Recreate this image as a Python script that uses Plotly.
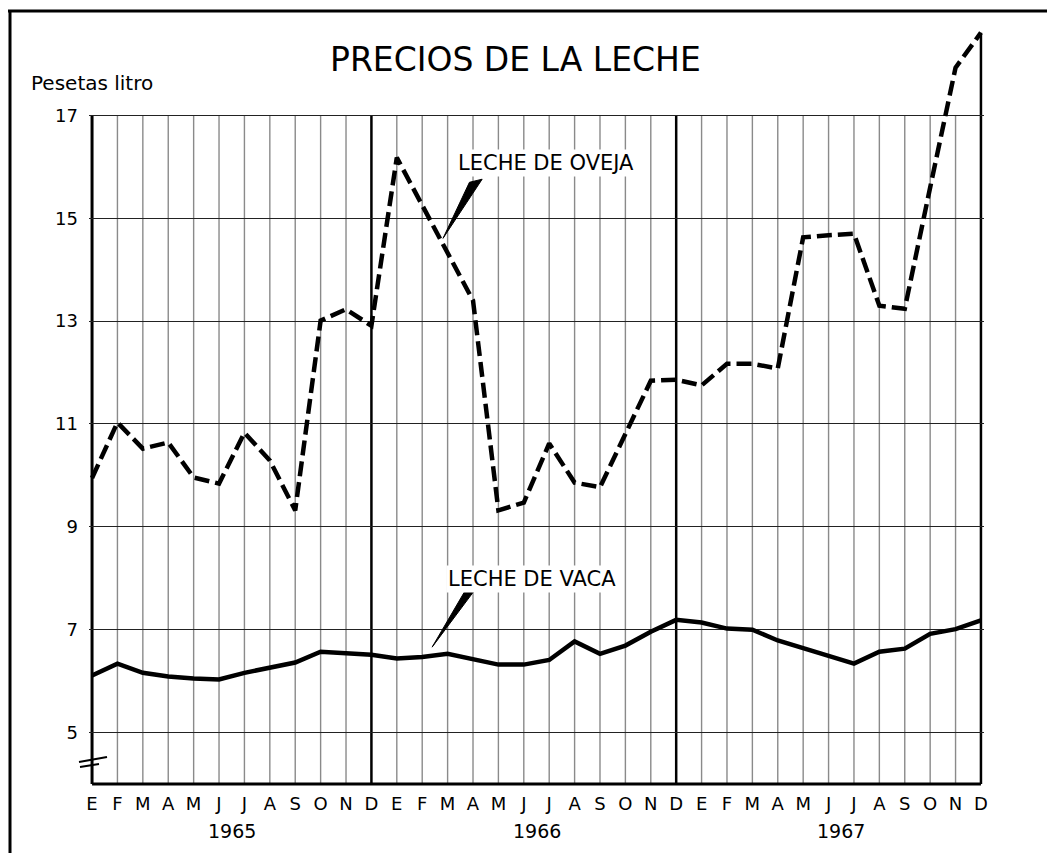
import plotly.graph_objects as go

# ---------------- data ----------------
months = ["E", "F", "M", "A", "M", "J", "J", "A", "S", "O", "N", "D"] * 3
years = ["1965", "1966", "1967"]
oveja = [9.95, 11.03, 10.52, 10.64, 9.96, 9.84, 10.83, 10.29, 9.32, 13.01, 13.23, 12.91,
         16.18, 15.25, 14.31, 13.40, 9.32, 9.47, 10.62, 9.86, 9.77, 10.81, 11.84, 11.86,
         11.75, 12.17, 12.17, 12.08, 14.63, 14.67, 14.70, 13.30, 13.24, 15.60, 17.93, 18.61]
vaca = [6.11, 6.34, 6.16, 6.09, 6.05, 6.03, 6.16, 6.26, 6.36, 6.57, 6.53, 6.51,
        6.44, 6.47, 6.53, 6.43, 6.32, 6.32, 6.41, 6.77, 6.53, 6.69, 6.96, 7.19,
        7.14, 7.02, 7.00, 6.79, 6.65, 6.49, 6.34, 6.57, 6.63, 6.92, 7.01, 7.18]
y_ticks = [5, 7, 9, 11, 13, 15, 17]

FONT = "DejaVu Sans"
idx = list(range(len(months)))
n = len(months)

# ---------------- layout geometry ----------------
WIDTH, HEIGHT = 1047, 853
ML, MR, MT, MB = 89, 63, 27, 66
XR = [-0.12, n - 1 + 0.12]
YR = [3.94, 18.72]
PW = WIDTH - ML - MR
PH = HEIGHT - MT - MB


def px_x(p):
    return (p - ML) / PW


def px_y(p):
    return (HEIGHT - MB - p) / PH


fig = go.Figure()

fig.add_trace(go.Scatter(
    x=idx, y=vaca, mode="lines", name="LECHE DE VACA",
    line=dict(color="black", width=4.5), showlegend=False,
))
fig.add_trace(go.Scatter(
    x=idx, y=oveja, mode="lines", name="LECHE DE OVEJA",
    line=dict(color="black", width=4.5, dash="15px,6px"), showlegend=False,
))

shapes = []
# vertical month grid lines
for i in idx[1:-1]:
    heavy = months[i] == "D"
    shapes.append(dict(
        type="line", xref="x", yref="y", x0=i, x1=i, y0=4, y1=17, layer="below",
        line=dict(color="black" if heavy else "#8a8a8a", width=2.5 if heavy else 1.4),
    ))
# borders
shapes.append(dict(type="line", xref="x", yref="y", x0=0, x1=0, y0=4, y1=17,
                   layer="below", line=dict(color="black", width=3)))
shapes.append(dict(type="line", xref="x", yref="y", x0=n - 1, x1=n - 1, y0=4, y1=oveja[-1],
                   layer="below", line=dict(color="black", width=2.5)))
shapes.append(dict(type="line", xref="x", yref="y", x0=0, x1=n - 1, y0=4, y1=4,
                   layer="below", line=dict(color="black", width=3)))
# axis break mark
shapes.append(dict(type="line", xref="paper", yref="paper",
                   x0=px_x(79), y0=px_y(762), x1=px_x(107), y1=px_y(757),
                   line=dict(color="black", width=2)))
shapes.append(dict(type="line", xref="paper", yref="paper",
                   x0=px_x(80), y0=px_y(767), x1=px_x(99), y1=px_y(764),
                   line=dict(color="black", width=2)))
# outer frame (top and left)
shapes.append(dict(type="line", xref="paper", yref="paper",
                   x0=px_x(8), y0=px_y(11), x1=px_x(1047), y1=px_y(11),
                   line=dict(color="black", width=3)))
shapes.append(dict(type="line", xref="paper", yref="paper",
                   x0=px_x(10), y0=px_y(10), x1=px_x(10), y1=px_y(853),
                   line=dict(color="black", width=3)))
# pointer wedges
shapes.append(dict(type="path", xref="x", yref="y", layer="above",
                   path="M 14.86 15.70 L 15.36 15.76 L 13.82 14.61 Z",
                   fillcolor="black", line=dict(color="black", width=1)))
shapes.append(dict(type="path", xref="x", yref="y", layer="above",
                   path="M 14.67 7.74 L 15.04 7.75 L 13.39 6.66 Z",
                   fillcolor="black", line=dict(color="black", width=1)))

annotations = [
    dict(text="PRECIOS DE LA LECHE", xref="paper", yref="paper",
         x=px_x(515), y=px_y(60), showarrow=False, xanchor="center", yanchor="middle",
         font=dict(family=FONT, size=33, color="black")),
    dict(text="Pesetas litro", xref="paper", yref="paper",
         x=px_x(29), y=px_y(83), showarrow=False, xanchor="left", yanchor="middle",
         font=dict(family=FONT, size=20, color="black")),
    dict(text="LECHE DE OVEJA", xref="x", yref="y", x=17.87, y=16.07,
         showarrow=False, xanchor="center", yanchor="middle", bgcolor="white",
         font=dict(family=FONT, size=21, color="black")),
    dict(text="LECHE DE VACA", xref="x", yref="y", x=17.32, y=7.99,
         showarrow=False, xanchor="center", yanchor="middle", bgcolor="white",
         font=dict(family=FONT, size=21, color="black")),
]
for k, yr in enumerate(years):
    annotations.append(dict(
        text=yr, xref="x", yref="paper", x=5.5 + 12 * k, y=px_y(831),
        showarrow=False, xanchor="center", yanchor="middle",
        font=dict(family=FONT, size=19, color="black"),
    ))

fig.update_layout(
    width=WIDTH, height=HEIGHT,
    margin=dict(l=ML, r=MR, t=MT, b=MB, autoexpand=False),
    paper_bgcolor="white", plot_bgcolor="white",
    shapes=shapes, annotations=annotations,
    showlegend=False,
)
fig.update_xaxes(
    range=XR, tickmode="array", tickvals=idx, ticktext=months,
    showgrid=False, zeroline=False, showline=False, ticks="",
    tickfont=dict(family=FONT, size=18, color="black"), ticklabelstandoff=4,
)
fig.update_yaxes(
    range=YR, tickmode="array", tickvals=y_ticks,
    showgrid=True, gridcolor="#222222", gridwidth=1.3, zeroline=False, showline=False,
    ticks="", tickfont=dict(family=FONT, size=18, color="black"), ticklabelstandoff=10,
)

fig.write_html("out.html", config={"displayModeBar": False},
               post_script="document.body.style.margin='0';")
